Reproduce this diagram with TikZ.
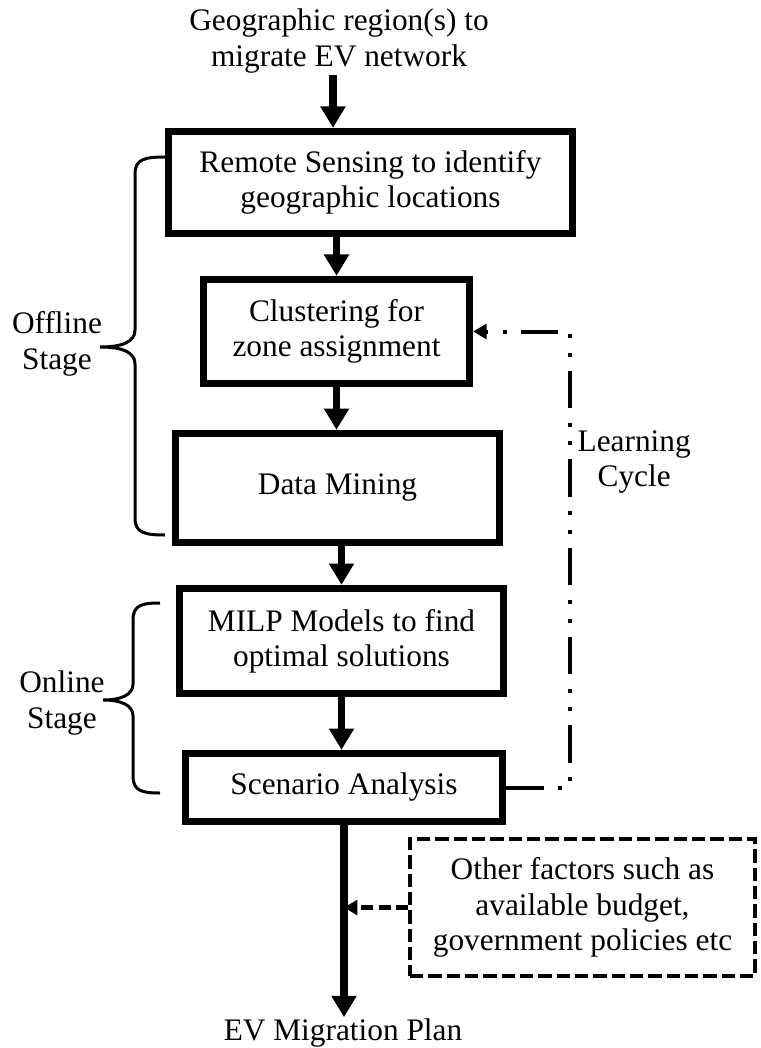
\documentclass[tikz,border=0pt]{standalone}
\usepackage{fontspec}
\setmainfont{Liberation Serif}
\usetikzlibrary{arrows.meta}

\begin{document}
\begin{tikzpicture}[x=0.75pt,y=0.75pt,yscale=-1,xscale=1,
  font=\fontsize{23.5}{26.5}\selectfont,
  stepbox/.style={draw,line width=5.5pt,align=center,inner sep=0pt},
  factorbox/.style={draw,line width=3pt,dash pattern=on 10pt off 3.75pt,align=center,inner sep=0pt},
  flow/.style={line width=5.5pt,-{Triangle[width=18pt,length=16pt]}},
  sideflow/.style={line width=3.5pt,dash pattern=on 9pt off 4pt,-{Triangle[width=11pt,length=10pt]}},
  loopline/.style={line width=3pt,dash pattern=on 28pt off 10.5pt on 3pt off 11pt on 3pt off 11pt,-{Triangle[width=11pt,length=10pt]}},
  stagebrace/.style={line width=2.25pt}]
\useasboundingbox (0,0) rectangle (760,1048);

% input and steps
\node (src) [align=center,inner sep=1pt] at (339,41) {Geographic region(s) to\\migrate EV network};
\node (box1) [stepbox,minimum width=303pt,minimum height=76.5pt] at (370.5,182.5) {Remote Sensing to identify\\geographic locations};
\node (box2) [stepbox,minimum width=199.5pt,minimum height=78pt] at (336.5,331.5) {Clustering for\\zone assignment};
\node (box3) [stepbox,minimum width=243pt,minimum height=81.75pt] at (337.5,488) {Data Mining};
\node (box4) [stepbox,minimum width=243pt,minimum height=78.75pt] at (341.5,641) {MILP Models to find\\optimal solutions};
\node (box5) [stepbox,minimum width=237.75pt,minimum height=51pt] at (344,787.5) {Scenario Analysis};
\node (plan) [inner sep=1pt] at (343,1033) {EV Migration Plan};
\node (other) [factorbox,minimum width=258.75pt,minimum height=102.75pt] at (582.5,907.5) {Other factors such as\\available budget,\\government policies etc};

% stage labels
\node (offline) [align=center] at (57,344) {Offline\\Stage};
\node (online) [align=center] at (62,703) {Online\\Stage};
\node (learn) [align=center,anchor=west,inner sep=1pt] at (576,462) {Learning\\Cycle};

% arrows
\draw[flow] ([xshift=-4.5pt]src.south) -- ([xshift=-4.5pt]src.south |- box1.north);
\draw[flow] (box2.north |- box1.south) -- (box2.north);
\draw[flow] (box2.south) -- (box2.south |- box3.north);
\draw[flow] (box4.north |- box3.south) -- (box4.north);
\draw[flow] (box4.south) -- (box4.south |- box5.north);
\draw[flow] (box5.south) -- (box5.south |- plan.north);
\draw[sideflow] (other.west) -- (other.west -| box5.south);
\coordinate (turn) at (570,0);
\draw[loopline] (box5.east) -| (turn |- box2.east) -- (box2.east);

% braces
\draw[stagebrace] (165,157) .. controls (145,157) and (135,159) .. (135,174) -- (135,330) .. controls (135,342) and (122,347) .. (100,347) .. controls (122,347) and (135,352) .. (135,364) -- (135,518) .. controls (135,533) and (145,535) .. (165,535);
\draw[stagebrace] (160,603) .. controls (142,603) and (133,605) .. (133,620) -- (133,684) .. controls (133,695) and (121,700) .. (103,700) .. controls (121,700) and (133,705) .. (133,716) -- (133,776) .. controls (133,791) and (142,793) .. (160,793);
\end{tikzpicture}
\end{document}
